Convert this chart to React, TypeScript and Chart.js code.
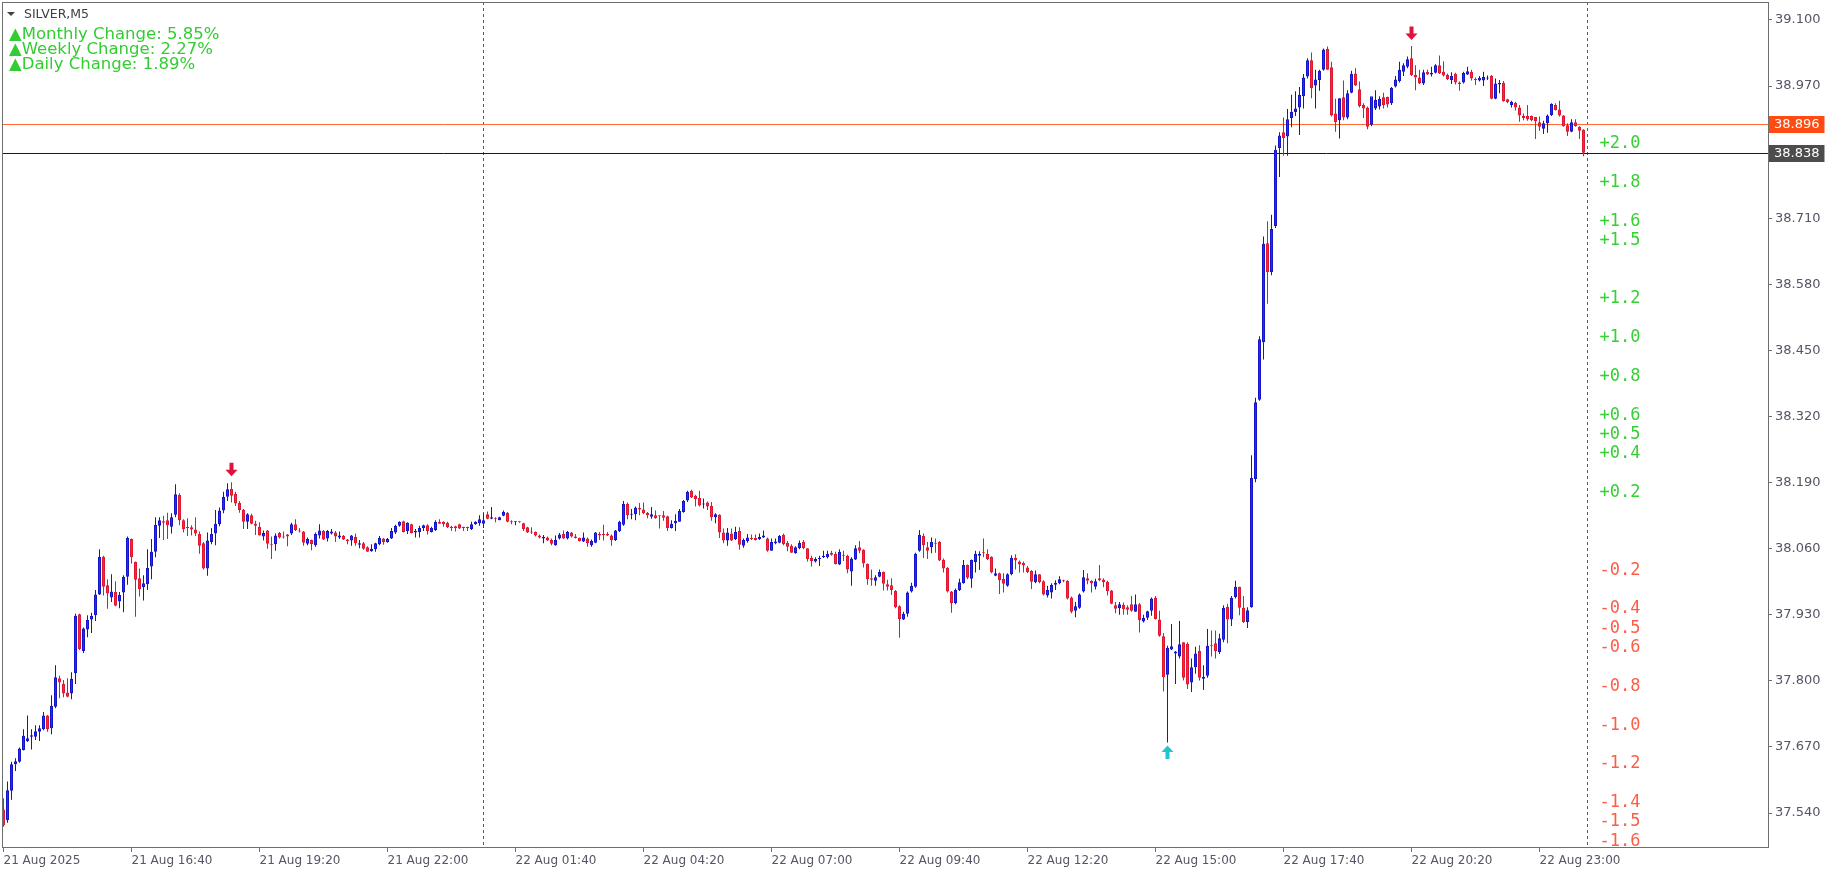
import React, { useEffect, useRef } from 'react';
import { Chart, registerables } from 'chart.js';

Chart.register(...registerables);

// ---------- data ----------
const SYMBOL = 'SILVER,M5';
const CHANGE_NAMES = ['Monthly Change', 'Weekly Change', 'Daily Change'];
const CHANGE_VALUES = [5.85, 2.27, 1.89];

// M5 bars, 21 Aug 14:00 .. 22 Aug 23:55 (bar index = position on the time axis)
const OPEN = [
  37.547,37.526,37.584,37.636,37.641,37.664,37.682,37.690,37.690,37.700,
  37.705,37.732,37.707,37.749,37.805,37.794,37.777,37.775,37.815,37.931,
  37.859,37.901,37.921,37.929,37.970,38.044,37.988,37.964,37.975,37.956,
  37.974,38.005,38.079,38.034,38.002,37.984,37.990,38.025,38.054,38.105,
  38.114,38.116,38.103,38.127,38.166,38.116,38.102,38.102,38.098,38.089,
  38.071,38.021,38.073,38.090,38.108,38.135,38.162,38.178,38.168,38.150,
  38.136,38.113,38.126,38.109,38.103,38.084,38.096,38.069,38.069,38.091,
  38.084,38.088,38.090,38.108,38.095,38.094,38.070,38.077,38.067,38.086,
  38.095,38.080,38.090,38.092,38.082,38.085,38.078,38.076,38.083,38.068,
  38.071,38.063,38.055,38.059,38.069,38.080,38.073,38.080,38.092,38.105,
  38.114,38.095,38.108,38.092,38.093,38.101,38.106,38.093,38.097,38.113,
  38.113,38.111,38.103,38.104,38.108,38.103,38.103,38.099,38.108,38.110,
  38.109,38.128,38.119,38.120,38.116,38.125,38.131,38.113,38.112,38.113,
  38.110,38.102,38.093,38.093,38.086,38.080,38.082,38.077,38.067,38.080,
  38.089,38.080,38.092,38.084,38.081,38.074,38.080,38.067,38.072,38.089,
  38.088,38.089,38.086,38.077,38.095,38.107,38.148,38.127,38.128,38.140,
  38.137,38.131,38.123,38.126,38.125,38.126,38.124,38.101,38.110,38.113,
  38.132,38.155,38.174,38.164,38.160,38.147,38.151,38.144,38.122,38.127,
  38.092,38.076,38.090,38.079,38.095,38.066,38.075,38.080,38.081,38.079,
  38.082,38.080,38.056,38.071,38.072,38.087,38.072,38.066,38.051,38.061,
  38.073,38.061,38.042,38.035,38.040,38.043,38.043,38.052,38.050,38.029,
  38.048,38.046,38.015,38.039,38.063,38.058,38.030,38.002,37.997,38.005,
  38.014,37.990,37.988,37.977,37.947,37.921,37.932,37.976,37.985,38.056,
  38.085,38.063,38.063,38.071,38.073,38.038,38.022,37.976,37.953,37.979,
  37.992,38.028,38.001,38.034,38.046,38.053,38.050,38.044,38.007,38.012,
  38.001,37.987,38.010,38.042,38.035,38.032,38.023,38.016,37.994,38.010,
  37.996,37.968,37.974,37.989,37.992,37.998,37.997,37.964,37.938,37.944,
  37.976,38.002,37.997,37.985,38.002,37.999,37.995,37.978,37.949,37.943,
  37.950,37.945,37.951,37.936,37.951,37.917,37.924,37.938,37.963,37.921,
  37.888,37.812,37.862,37.854,37.848,37.876,37.873,37.797,37.827,37.859,
  37.804,37.810,37.869,37.874,37.857,37.881,37.946,37.921,37.965,37.985,
  37.944,37.916,37.945,38.197,38.353,38.466,38.661,38.604,38.695,38.848,
  38.879,38.871,38.907,38.919,38.928,38.950,38.989,39.021,38.971,38.982,
  39.002,39.043,39.007,38.916,38.903,38.948,38.908,38.957,38.995,38.964,
  38.933,38.928,38.894,38.926,38.930,38.948,38.949,38.936,38.969,38.980,
  38.998,39.008,39.025,38.992,38.987,38.975,38.998,38.993,38.996,39.011,
  38.998,38.992,38.982,38.994,38.977,38.977,38.993,38.998,38.983,38.981,
  38.981,38.985,38.990,38.945,38.973,38.976,38.944,38.933,38.937,38.928,
  38.911,38.911,38.911,38.909,38.899,38.886,38.897,38.913,38.933,38.924,
  38.912,38.893,38.880,38.899,38.890,38.884,
];
const HIGH = [
  37.569,37.602,37.641,37.648,37.669,37.705,37.732,37.705,37.713,37.713,
  37.739,37.733,37.772,37.831,37.810,37.802,37.805,37.817,37.932,37.932,
  37.905,37.929,37.934,37.979,38.059,38.046,38.000,38.010,37.996,37.975,
  38.008,38.084,38.080,38.035,38.021,38.008,38.059,38.079,38.122,38.122,
  38.125,38.131,38.130,38.187,38.169,38.118,38.120,38.106,38.122,38.094,
  38.073,38.092,38.101,38.136,38.141,38.172,38.189,38.191,38.172,38.154,
  38.138,38.130,38.129,38.115,38.112,38.096,38.097,38.084,38.090,38.093,
  38.094,38.089,38.111,38.118,38.101,38.095,38.082,38.078,38.092,38.108,
  38.097,38.097,38.099,38.095,38.094,38.087,38.079,38.087,38.090,38.077,
  38.073,38.065,38.069,38.072,38.085,38.081,38.081,38.101,38.107,38.114,
  38.115,38.112,38.109,38.099,38.105,38.107,38.108,38.103,38.116,38.118,
  38.114,38.113,38.105,38.105,38.109,38.103,38.103,38.113,38.114,38.126,
  38.130,38.133,38.142,38.122,38.123,38.135,38.132,38.116,38.114,38.114,
  38.111,38.103,38.102,38.094,38.088,38.087,38.084,38.080,38.086,38.091,
  38.096,38.095,38.093,38.089,38.082,38.092,38.082,38.078,38.093,38.093,
  38.107,38.093,38.088,38.097,38.115,38.154,38.151,38.138,38.143,38.150,
  38.151,38.132,38.142,38.135,38.126,38.134,38.125,38.116,38.128,38.138,
  38.156,38.174,38.176,38.166,38.174,38.159,38.153,38.152,38.130,38.128,
  38.100,38.101,38.100,38.103,38.102,38.080,38.089,38.088,38.088,38.090,
  38.096,38.082,38.080,38.080,38.087,38.090,38.075,38.069,38.065,38.076,
  38.077,38.061,38.046,38.043,38.046,38.056,38.056,38.056,38.054,38.059,
  38.056,38.048,38.043,38.067,38.075,38.059,38.031,38.019,38.008,38.019,
  38.015,37.999,38.002,37.979,37.949,37.936,37.976,37.993,38.052,38.097,
  38.090,38.073,38.082,38.080,38.075,38.041,38.024,37.977,37.982,38.001,
  38.038,38.029,38.039,38.056,38.055,38.080,38.059,38.045,38.021,38.013,
  38.012,38.012,38.047,38.049,38.037,38.035,38.026,38.018,38.017,38.010,
  37.998,37.987,37.992,37.998,38.006,37.999,37.998,37.966,37.955,37.972,
  38.018,38.012,37.998,38.001,38.028,38.002,37.997,37.979,37.955,37.955,
  37.954,37.949,37.967,37.970,37.953,37.930,37.938,37.964,37.967,37.938,
  37.894,37.869,37.912,37.859,37.918,37.876,37.876,37.844,37.867,37.870,
  37.831,37.902,37.899,37.899,37.893,37.949,37.952,37.967,37.997,37.985,
  37.967,37.945,38.244,38.357,38.478,38.674,38.704,38.717,38.853,38.879,
  38.908,38.925,38.953,38.960,38.968,38.994,39.025,39.036,39.002,39.002,
  39.044,39.048,39.018,38.945,38.946,38.981,38.962,39.000,39.005,38.979,
  38.936,38.930,38.937,38.962,38.950,38.957,38.949,38.968,38.990,39.018,
  39.015,39.028,39.049,39.011,39.002,39.002,39.002,39.008,39.013,39.030,
  39.019,38.995,38.997,38.996,38.979,38.998,39.008,39.002,38.987,38.990,
  38.998,38.991,38.992,38.985,38.982,38.980,38.945,38.941,38.939,38.933,
  38.916,38.933,38.912,38.909,38.910,38.902,38.914,38.936,38.936,38.941,
  38.913,38.897,38.905,38.905,38.891,38.885,
];
const LOW = [
  37.513,37.521,37.566,37.623,37.639,37.663,37.680,37.665,37.684,37.682,
  37.703,37.700,37.695,37.746,37.766,37.768,37.768,37.764,37.794,37.861,
  37.855,37.886,37.894,37.918,37.969,37.968,37.942,37.955,37.947,37.943,
  37.935,37.989,38.031,37.926,37.966,37.958,37.979,38.000,38.043,38.081,
  38.077,38.079,38.090,38.122,38.106,38.092,38.085,38.086,38.085,38.050,
  38.019,38.007,38.069,38.067,38.104,38.130,38.154,38.151,38.144,38.131,
  38.099,38.099,38.108,38.087,38.086,38.076,38.060,38.040,38.056,38.080,
  38.080,38.065,38.087,38.095,38.092,38.066,38.067,38.057,38.064,38.080,
  38.077,38.074,38.088,38.073,38.079,38.077,38.069,38.066,38.066,38.061,
  38.058,38.054,38.054,38.054,38.067,38.068,38.072,38.079,38.089,38.103,
  38.092,38.089,38.090,38.082,38.082,38.095,38.088,38.092,38.095,38.109,
  38.103,38.101,38.095,38.094,38.099,38.095,38.095,38.097,38.107,38.105,
  38.101,38.118,38.118,38.112,38.116,38.124,38.112,38.108,38.106,38.111,
  38.095,38.091,38.089,38.084,38.080,38.071,38.075,38.067,38.066,38.078,
  38.079,38.078,38.082,38.080,38.074,38.073,38.064,38.064,38.071,38.077,
  38.076,38.085,38.066,38.075,38.093,38.105,38.118,38.118,38.116,38.126,
  38.128,38.120,38.119,38.119,38.100,38.115,38.095,38.100,38.095,38.113,
  38.131,38.152,38.160,38.143,38.143,38.139,38.136,38.115,38.110,38.081,
  38.071,38.066,38.075,38.077,38.058,38.062,38.072,38.077,38.076,38.077,
  38.081,38.054,38.056,38.069,38.071,38.067,38.055,38.052,38.050,38.059,
  38.059,38.035,38.025,38.033,38.026,38.042,38.041,38.046,38.029,38.028,
  38.036,38.012,37.987,38.038,38.051,38.023,37.989,37.987,37.987,38.004,
  37.978,37.978,37.969,37.943,37.885,37.920,37.926,37.974,37.983,38.054,
  38.042,38.040,38.051,38.052,38.036,38.013,37.974,37.934,37.951,37.977,
  37.991,38.000,37.983,38.013,38.018,38.043,38.038,38.012,38.006,37.971,
  37.974,37.985,38.008,38.019,38.013,38.013,38.012,37.981,37.992,37.992,
  37.968,37.964,37.962,37.979,37.990,37.994,37.960,37.933,37.925,37.942,
  37.974,37.990,37.974,37.980,37.996,37.984,37.968,37.951,37.933,37.930,
  37.930,37.930,37.936,37.936,37.895,37.915,37.920,37.928,37.921,37.887,
  37.779,37.679,37.861,37.794,37.844,37.801,37.784,37.778,37.814,37.801,
  37.782,37.806,37.848,37.844,37.853,37.876,37.874,37.908,37.962,37.929,
  37.914,37.904,37.944,38.191,38.351,38.432,38.542,38.598,38.691,38.791,
  38.833,38.833,38.889,38.911,38.874,38.926,38.985,38.946,38.926,38.961,
  39.000,39.002,38.910,38.880,38.867,38.903,38.905,38.956,38.970,38.928,
  38.907,38.885,38.891,38.923,38.924,38.926,38.928,38.933,38.967,38.977,
  38.990,39.005,38.990,38.962,38.974,38.972,38.992,38.989,38.995,38.994,
  38.989,38.982,38.974,38.973,38.961,38.975,38.992,38.981,38.972,38.979,
  38.970,38.982,38.944,38.944,38.956,38.939,38.936,38.928,38.922,38.900,
  38.903,38.902,38.901,38.866,38.882,38.876,38.878,38.911,38.922,38.910,
  38.890,38.872,38.879,38.890,38.866,38.832,
];
const CLOSE = [
  37.516,37.585,37.636,37.642,37.667,37.692,37.687,37.693,37.701,37.707,
  37.732,37.705,37.751,37.807,37.797,37.775,37.769,37.804,37.928,37.863,
  37.903,37.920,37.928,37.970,38.044,37.985,37.972,37.976,37.948,37.969,
  38.005,38.081,38.043,37.999,37.981,37.992,38.022,38.054,38.107,38.116,
  38.111,38.106,38.122,38.167,38.116,38.099,38.101,38.098,38.090,38.066,
  38.021,38.076,38.089,38.109,38.135,38.162,38.177,38.164,38.149,38.136,
  38.113,38.128,38.109,38.105,38.086,38.091,38.070,38.067,38.086,38.082,
  38.082,38.084,38.108,38.097,38.094,38.072,38.079,38.069,38.089,38.096,
  38.078,38.095,38.094,38.084,38.086,38.078,38.075,38.086,38.071,38.071,
  38.060,38.054,38.060,38.071,38.081,38.073,38.079,38.095,38.105,38.113,
  38.093,38.111,38.091,38.095,38.101,38.106,38.095,38.101,38.113,38.109,
  38.108,38.102,38.101,38.101,38.100,38.101,38.101,38.108,38.113,38.118,
  38.116,38.119,38.122,38.118,38.122,38.132,38.113,38.112,38.114,38.112,
  38.099,38.092,38.092,38.086,38.082,38.083,38.076,38.070,38.077,38.088,
  38.080,38.093,38.084,38.081,38.075,38.082,38.071,38.075,38.092,38.086,
  38.087,38.086,38.077,38.096,38.113,38.148,38.126,38.128,38.141,38.137,
  38.130,38.126,38.128,38.120,38.124,38.121,38.101,38.109,38.115,38.134,
  38.154,38.172,38.161,38.158,38.145,38.148,38.143,38.122,38.128,38.092,
  38.076,38.092,38.076,38.093,38.068,38.077,38.082,38.079,38.077,38.083,
  38.086,38.056,38.073,38.074,38.085,38.069,38.064,38.052,38.063,38.072,
  38.061,38.040,38.036,38.040,38.042,38.046,38.050,38.048,38.030,38.054,
  38.046,38.019,38.041,38.061,38.056,38.031,38.000,37.999,38.004,38.014,
  37.991,37.985,37.979,37.945,37.922,37.932,37.974,37.987,38.050,38.087,
  38.067,38.056,38.073,38.070,38.037,38.021,37.976,37.953,37.979,37.994,
  38.028,38.003,38.038,38.050,38.050,38.051,38.040,38.013,38.012,37.998,
  37.991,38.010,38.042,38.037,38.029,38.027,38.014,37.995,38.010,37.994,
  37.970,37.979,37.989,37.993,38.000,37.997,37.962,37.936,37.947,37.970,
  38.004,37.997,37.992,37.996,37.998,37.994,37.977,37.952,37.942,37.951,
  37.941,37.940,37.938,37.951,37.920,37.924,37.937,37.962,37.922,37.889,
  37.807,37.865,37.868,37.858,37.872,37.806,37.793,37.827,37.854,37.806,
  37.808,37.869,37.868,37.859,37.884,37.944,37.921,37.963,37.985,37.944,
  37.916,37.939,38.199,38.348,38.472,38.660,38.604,38.689,38.845,38.873,
  38.868,38.905,38.919,38.926,38.953,38.987,39.021,38.966,38.983,39.000,
  39.042,39.002,38.912,38.899,38.946,38.908,38.956,38.994,38.971,38.931,
  38.926,38.890,38.950,38.943,38.945,38.933,38.934,38.966,38.983,39.002,
  39.011,39.023,38.992,38.987,38.975,38.997,38.993,38.996,39.011,38.995,
  38.991,38.984,38.990,38.977,38.974,38.996,38.999,38.985,38.982,38.986,
  38.988,38.986,38.945,38.975,38.976,38.940,38.938,38.939,38.928,38.912,
  38.907,38.905,38.903,38.901,38.890,38.897,38.912,38.935,38.923,38.912,
  38.891,38.880,38.899,38.891,38.882,38.839,
];

const X_TICK_BARS = [0, 32, 64, 96, 128, 160, 192, 224, 256, 288, 320, 352, 384];
const X_TICK_LABELS = [
  '21 Aug 2025', '21 Aug 16:40', '21 Aug 19:20', '21 Aug 22:00', '22 Aug 01:40',
  '22 Aug 04:20', '22 Aug 07:00', '22 Aug 09:40', '22 Aug 12:20', '22 Aug 15:00',
  '22 Aug 17:40', '22 Aug 20:20', '22 Aug 23:00',
];
const Y_TICKS = [37.54, 37.67, 37.8, 37.93, 38.06, 38.19, 38.32, 38.45, 38.58, 38.71, 38.97, 39.1];
const Y_MIN = 37.4733;
const Y_MAX = 39.1354;
const X_MIN = -0.375;
const X_MAX = 441.125;

const DAY_STARTS = [120, 396];
const ASK_PRICE = 38.896;
const BID_PRICE = 38.838;
const PCT_BASE = 38.098;
const PCT_LEVELS = [2.0, 1.8, 1.6, 1.5, 1.2, 1.0, 0.8, 0.6, 0.5, 0.4, 0.2,
  -0.2, -0.4, -0.5, -0.6, -0.8, -1.0, -1.2, -1.4, -1.5, -1.6];
const FRACTAL_HIGHS = [57, 352];
const FRACTAL_LOWS = [291];

// ---------- styles ----------
const BULL_EDGE = '#1414c8';
const BULL_FILL = '#2a2aea';
const BEAR_EDGE = '#de1830';
const BEAR_FILL = '#ee2a3e';
const AXIS_TEXT = '#555566';
const FONT = 'DejaVu Sans';

function drawArrow(ctx: CanvasRenderingContext2D, cx: number, tipY: number, dir: number, color: string) {
  const h = 6.5, w = 6, sw = 2, sh = 7;
  ctx.fillStyle = color;
  ctx.beginPath();
  ctx.moveTo(cx, tipY);
  ctx.lineTo(cx - w, tipY - dir * h);
  ctx.lineTo(cx - sw, tipY - dir * h);
  ctx.lineTo(cx - sw, tipY - dir * (h + sh));
  ctx.lineTo(cx + sw, tipY - dir * (h + sh));
  ctx.lineTo(cx + sw, tipY - dir * h);
  ctx.lineTo(cx + w, tipY - dir * h);
  ctx.closePath();
  ctx.fill();
}

const overlayPlugin = {
  id: 'mt5Overlay',
  beforeDatasetsDraw(chart: any) {
    const { ctx, chartArea: a, scales } = chart;
    const xs = scales.x, ys = scales.y;
    ctx.save();
    ctx.lineWidth = 1;
    ctx.strokeStyle = '#5a5a5a';
    ctx.setLineDash([3, 3]);
    DAY_STARTS.forEach((b) => {
      const px = Math.floor(xs.getPixelForValue(b)) + 0.5;
      ctx.beginPath();
      ctx.moveTo(px, a.top);
      ctx.lineTo(px, a.bottom);
      ctx.stroke();
    });
    ctx.setLineDash([]);
    const hline = (p: number, c: string) => {
      const py = Math.round(ys.getPixelForValue(p)) + 0.5;
      ctx.strokeStyle = c;
      ctx.beginPath();
      ctx.moveTo(a.left, py);
      ctx.lineTo(a.right, py);
      ctx.stroke();
    };
    hline(ASK_PRICE, '#ff6a30');
    hline(BID_PRICE, '#1a1a1a');
    ctx.restore();
  },
  afterDatasetsDraw(chart: any) {
    const { ctx, scales } = chart;
    const xs = scales.x, ys = scales.y;
    ctx.save();
    FRACTAL_HIGHS.forEach((b) => {
      drawArrow(ctx, xs.getPixelForValue(b), ys.getPixelForValue(HIGH[b]) - 6, 1, '#dc143c');
    });
    FRACTAL_LOWS.forEach((b) => {
      drawArrow(ctx, xs.getPixelForValue(b), ys.getPixelForValue(LOW[b]) + 3, -1, '#22c4d0');
    });
    ctx.restore();
  },
  afterDraw(chart: any) {
    const { ctx, chartArea: a, scales } = chart;
    const xs = scales.x, ys = scales.y;
    ctx.save();
    // frame
    ctx.strokeStyle = '#6e6e6e';
    ctx.lineWidth = 1;
    ctx.strokeRect(a.left + 0.5, a.top + 0.5, a.right - a.left, a.bottom - a.top);

    // current price labels on the axis
    ctx.font = `13px ${FONT}`;
    ctx.textBaseline = 'middle';
    ctx.textAlign = 'left';
    const box = (p: number, bg: string) => {
      const py = ys.getPixelForValue(p);
      const t = p.toFixed(3);
      const w = ctx.measureText(t).width + 10;
      ctx.fillStyle = bg;
      ctx.fillRect(a.right + 1, Math.round(py) - 8, w, 17);
      ctx.fillStyle = '#ffffff';
      ctx.fillText(t, a.right + 6, Math.round(py) + 0.5);
    };
    box(ASK_PRICE, '#ff4a12');
    box(BID_PRICE, '#4c4c4c');

    // percentage levels
    const lx = xs.getPixelForValue(DAY_STARTS[1]) + 12;
    ctx.font = `17px DejaVu Sans Mono`;
    PCT_LEVELS.forEach((pc) => {
      const py = ys.getPixelForValue(PCT_BASE * (1 + pc / 100));
      ctx.fillStyle = pc > 0 ? '#36cf36' : '#ff5c48';
      ctx.fillText((pc > 0 ? '+' : '') + pc.toFixed(1), lx, py + 2);
    });

    // header
    ctx.fillStyle = '#404040';
    ctx.beginPath();
    ctx.moveTo(7, 12);
    ctx.lineTo(15, 12);
    ctx.lineTo(11, 16);
    ctx.closePath();
    ctx.fill();
    ctx.font = `12.5px ${FONT}`;
    ctx.fillText(SYMBOL, 24, 15);
    ctx.font = `16.5px ${FONT}`;
    ctx.fillStyle = '#32cd32';
    CHANGE_NAMES.forEach((n, i) => {
      ctx.fillText(`▲${n}: ${CHANGE_VALUES[i].toFixed(2)}%`, 9, 35 + i * 15);
    });
    ctx.restore();
  },
};

export default function App() {
  const ref = useRef<HTMLCanvasElement>(null);
  useEffect(() => {
    document.body.style.margin = '0';
    const canvas = ref.current;
    if (!canvas) return;
    const idx = CLOSE.map((_, i) => i);
    const up = idx.map((i) => CLOSE[i] >= OPEN[i]);
    const chart = new Chart(canvas, {
      type: 'bar',
      data: {
        datasets: [
          {
            label: 'body',
            data: idx.map((i) => ({ x: i, y: [OPEN[i], CLOSE[i]] })) as any,
            backgroundColor: up.map((u) => (u ? BULL_FILL : BEAR_FILL)),
            borderColor: up.map((u) => (u ? BULL_EDGE : BEAR_EDGE)),
            borderWidth: 1,
            borderSkipped: false,
            barThickness: 3,
            minBarLength: 1,
            inflateAmount: 0,
            grouped: false,
            order: 0,
          } as any,
          {
            label: 'wick',
            data: idx.map((i) => ({ x: i, y: [LOW[i], HIGH[i]] })) as any,
            backgroundColor: up.map((u) => (u ? BULL_EDGE : BEAR_EDGE)),
            borderWidth: 0,
            barThickness: 1,
            inflateAmount: 0,
            grouped: false,
            order: 1,
          } as any,
        ],
      },
      options: {
        animation: false,
        responsive: false,
        devicePixelRatio: 1,
        events: [],
        layout: { padding: { left: 2, top: 2, right: 0, bottom: 0 } },
        plugins: { legend: { display: false }, tooltip: { enabled: false } },
        scales: {
          x: {
            type: 'linear',
            position: 'bottom',
            min: X_MIN,
            max: X_MAX,
            bounds: 'data',
            offset: false,
            grid: { display: true, drawOnChartArea: false, drawTicks: true, tickLength: 5, color: '#6e6e6e', offset: false },
            border: { display: false },
            ticks: {
              autoSkip: false,
              maxRotation: 0,
              minRotation: 0,
              align: 'start',
              padding: 2,
              color: AXIS_TEXT,
              font: { family: FONT, size: 12 },
              callback: (_v: any, i: number) => X_TICK_LABELS[i],
            },
            afterBuildTicks: (s: any) => {
              s.ticks = X_TICK_BARS.map((v) => ({ value: v }));
            },
            afterFit: (s: any) => {
              s.height = 28;
              s.paddingLeft = 0;
              s.paddingRight = 0;
              s.paddingTop = 0;
              s.paddingBottom = 0;
            },
          } as any,
          y: {
            type: 'linear',
            position: 'right',
            min: Y_MIN,
            max: Y_MAX,
            bounds: 'data',
            grid: { display: true, drawOnChartArea: false, drawTicks: true, tickLength: 4, color: '#6e6e6e' },
            border: { display: false },
            ticks: {
              crossAlign: 'near',
              padding: 3,
              color: AXIS_TEXT,
              font: { family: FONT, size: 13 },
              callback: (v: any) => Number(v).toFixed(3),
            },
            afterBuildTicks: (s: any) => {
              s.ticks = Y_TICKS.map((v) => ({ value: v }));
            },
            afterFit: (s: any) => {
              s.width = 64;
              s.paddingLeft = 0;
              s.paddingRight = 0;
              s.paddingTop = 0;
              s.paddingBottom = 0;
            },
          } as any,
        },
      },
      plugins: [overlayPlugin],
    });
    return () => chart.destroy();
  }, []);
  return (
    <div style={{ position: 'fixed', left: 0, top: 0, width: 1832, height: 875, background: '#ffffff' }}>
      <canvas ref={ref} width={1832} height={875} style={{ display: 'block' }} />
    </div>
  );
}
